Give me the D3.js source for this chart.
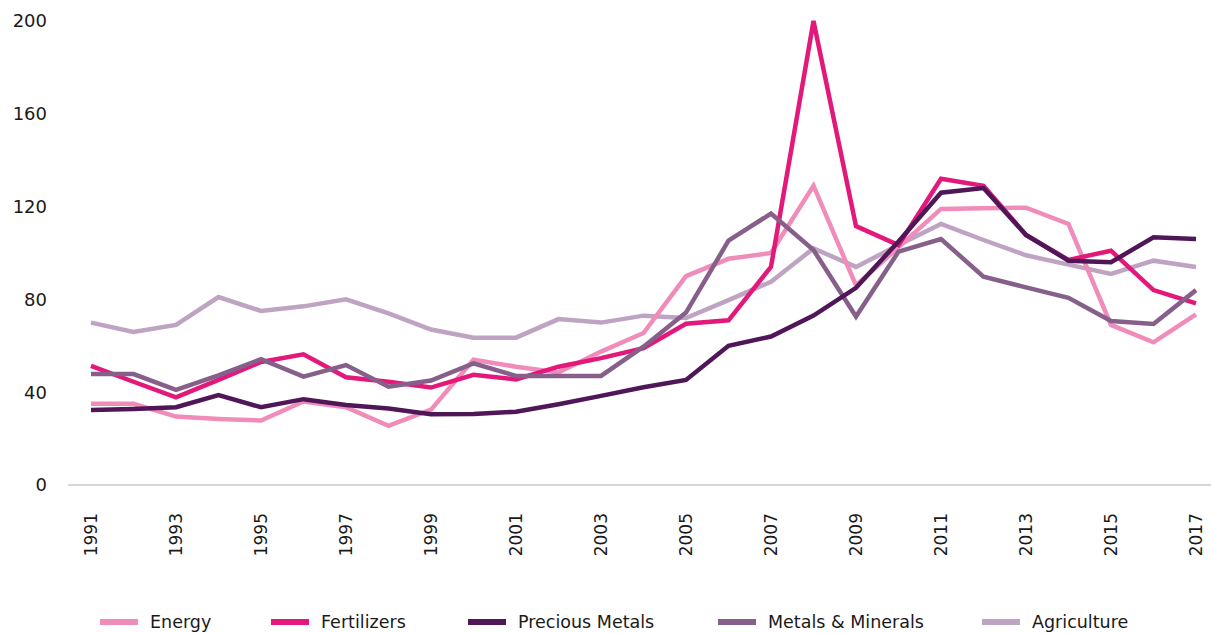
<!DOCTYPE html>
<html>
<head>
<meta charset="utf-8">
<script src="https://cdn.jsdelivr.net/npm/d3@7"></script>
<style>
  body { margin: 0; background: #fff; }
  svg text { font-family: "DejaVu Sans", sans-serif; fill: #1a1a1a; }
</style>
</head>
<body>
<div id="chart"></div>
<script>
'use strict';

const years = d3.range(1991, 2018);
const yTicks = [0, 40, 80, 120, 160, 200];
const xTicks = d3.range(1991, 2018, 2);

const energy = [35, 35, 29.5, 28.5, 27.8, 36, 33.5, 25.5, 32.5, 54, 51, 48.5, 57.5, 65.5, 90, 97.5, 100, 129, 86, 102.5, 119, 119.3, 119.5, 112.5, 69, 61.5, 73.5];
const fertilizers = [51.3, 44.5, 37.8, 45.3, 53, 56.3, 46.4, 44.5, 42, 47.5, 45.5, 51, 54.7, 59, 69.5, 71, 94, 200, 111.6, 103.4, 132, 129, 107.8, 97, 101, 84, 78.3];
const preciousMetals = [32.3, 32.8, 33.5, 38.8, 33.5, 37, 34.5, 33, 30.5, 30.6, 31.6, 34.8, 38.4, 42.1, 45.3, 60, 64, 73, 85, 105, 126, 128, 107.8, 96.7, 96, 106.8, 106];
const metalsMinerals = [47.8, 47.8, 41, 47.3, 54.2, 46.7, 51.7, 42.4, 45, 52.4, 47, 47, 47, 59.6, 74.3, 105.3, 117, 101.3, 72.6, 100.6, 106, 89.8, 85.2, 80.7, 70.7, 69.4, 84];
const agriculture = [70, 66, 69, 81, 75, 77, 80, 74, 67, 63.5, 63.5, 71.5, 70, 73, 72, 79.7, 87.6, 102, 94, 103.4, 112.5, 105.6, 99, 95, 91, 96.7, 94];

const series = [
  { name: "Energy", values: energy, color: "#f08cba" },
  { name: "Fertilizers", values: fertilizers, color: "#e2187b" },
  { name: "Precious Metals", values: preciousMetals, color: "#4f1658" },
  { name: "Metals & Minerals", values: metalsMinerals, color: "#86608a" },
  { name: "Agriculture", values: agriculture, color: "#bfa3c2" }
];
// draw order (bottom to top)
const drawOrder = ["Agriculture", "Energy", "Fertilizers", "Metals & Minerals", "Precious Metals"];
const legendX = [100, 271, 468, 718, 982];

const width = 1211, height = 633;

const svg = d3.select("#chart").append("svg")
  .attr("width", width)
  .attr("height", height);

const x = d3.scaleLinear().domain([1991, 2017]).range([91, 1196]);
const y = d3.scaleLinear().domain([0, 200]).range([485, 21]);

// y labels
svg.append("g")
  .selectAll("text")
  .data(yTicks)
  .enter().append("text")
  .attr("x", 47)
  .attr("y", d => y(d))
  .attr("dy", "0.36em")
  .attr("text-anchor", "end")
  .style("font-size", "18px")
  .text(d => d);

// baseline
svg.append("line")
  .attr("x1", 68).attr("x2", width)
  .attr("y1", y(0)).attr("y2", y(0))
  .attr("stroke", "#c8c8c8")
  .attr("stroke-width", 1.5);

// x labels
svg.append("g")
  .selectAll("text")
  .data(xTicks)
  .enter().append("text")
  .attr("transform", d => `translate(${x(d)},513) rotate(-90)`)
  .attr("dy", "0.36em")
  .attr("text-anchor", "end")
  .style("font-size", "17px")
  .text(d => d);

const line = d3.line()
  .x((d, i) => x(years[i]))
  .y(d => y(d));

const byName = d3.index(series, d => d.name);

svg.append("g")
  .selectAll("path")
  .data(drawOrder.map(n => byName.get(n)))
  .enter().append("path")
  .attr("d", d => line(d.values))
  .attr("fill", "none")
  .attr("stroke", d => d.color)
  .attr("stroke-width", 4.5)
  .attr("stroke-linejoin", "miter");

// legend
const legend = svg.append("g")
  .selectAll("g")
  .data(series)
  .enter().append("g")
  .attr("transform", (d, i) => `translate(${legendX[i]},622)`);

legend.append("rect")
  .attr("x", 0).attr("y", -3)
  .attr("width", 38).attr("height", 6)
  .attr("fill", d => d.color);

legend.append("text")
  .attr("x", 50)
  .attr("dy", "0.36em")
  .style("font-size", "17.5px")
  .text(d => d.name);
</script>
</body>
</html>
